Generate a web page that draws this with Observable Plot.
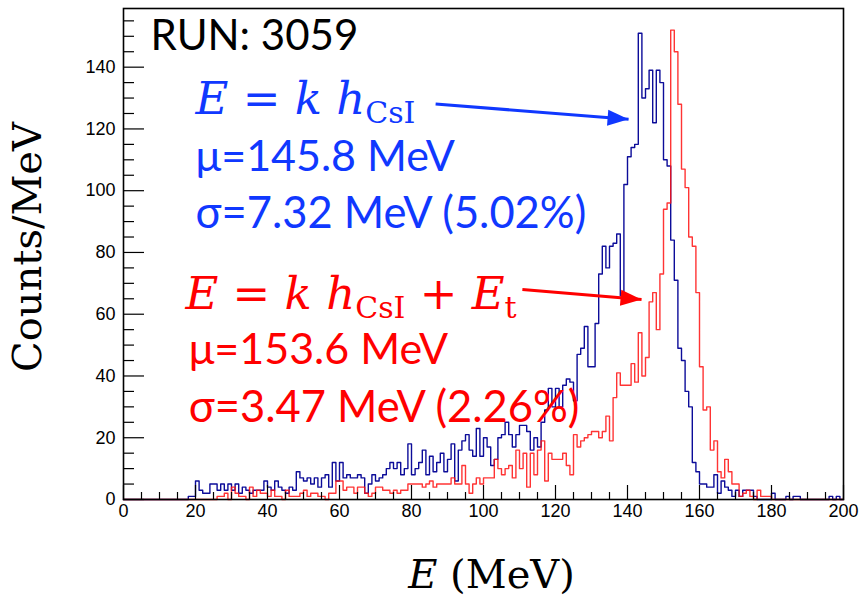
<!DOCTYPE html>
<html>
<head>
<meta charset="utf-8">
<script src="https://cdn.jsdelivr.net/npm/d3@7"></script>
<script src="https://cdn.jsdelivr.net/npm/@observablehq/plot@0.6"></script>
<style>
html, body { margin: 0; padding: 0; background: #fff; }
#chart { width: 859px; height: 599px; }
</style>
</head>
<body>
<div id="chart"></div>
<script>
// ---------- data (counts per 1 MeV bin, bins 0..199 MeV) ----------
const binLow = 0;          // first bin lower edge (MeV)
const binWidth = 1;        // MeV
const blueCounts = [
  0,0,0,0,0,0,0,0,0,0,
  0,0,0,0,0,0,0,0,1,1,
  6,3,2,2,5,5,3,5,3,5,
  3,5,2,4,3,2,3,3,3,6,
  4,3,6,4,3,2,4,3,9,7,
  6,7,5,7,4,7,8,4,12,6,
  12,7,8,7,7,8,7,2,5,8,
  6,7,8,10,12,10,12,8,10,18,
  8,10,12,16,8,14,9,12,15,9,
  13,18,6,16,19,21,16,14,23,14,
  20,17,11,13,20,21,25,21,17,21,
  24,24,22,16,20,17,25,29,36,30,
  36,30,37,39,38,32,47,49,56,43,
  43,57,73,82,75,82,83,86,66,102,
  111,114,115,151,130,133,139,122,139,135,
  110,108,84,71,49,45,35,30,12,9,
  5,5,4,4,8,2,6,4,3,1,
  3,1,3,3,3,1,0,0,0,0,
  2,0,0,0,1,0,1,1,0,0,
  0,0,0,0,0,0,1,0,1,0
];
const redCounts = [
  0,0,0,0,0,0,0,0,0,0,
  0,0,0,0,0,0,0,0,0,0,
  0,0,0,0,0,0,1,1,2,0,
  4,2,1,1,0,4,1,3,2,2,
  1,3,1,1,0,3,1,1,1,2,
  3,1,2,2,1,1,0,2,2,6,
  6,3,4,4,2,4,4,2,1,2,
  4,4,3,3,2,3,2,3,3,5,
  5,5,5,4,5,6,4,5,5,5,
  5,7,5,5,11,5,2,5,7,5,
  7,7,7,13,10,8,10,11,7,16,
  10,15,4,15,8,16,19,6,15,13,
  13,13,15,11,8,21,17,19,20,21,
  22,22,20,22,27,19,33,41,37,37,
  37,44,38,54,40,46,64,67,55,73,
  94,96,152,145,128,107,101,85,82,67,
  43,29,30,16,19,9,7,13,9,5,
  5,1,2,3,1,0,3,1,1,1,
  0,0,0,0,0,0,0,0,0,0,
  0,0,0,0,0,0,0,0,0,0
];
const xMajorTicks = [0, 20, 40, 60, 80, 100, 120, 140, 160, 180, 200];
const xMinorTicks = [5,10,15,25,30,35,45,50,55,65,70,75,85,90,95,105,110,115,125,130,135,145,150,155,165,170,175,185,190,195];
const yMajorTicks = [0, 20, 40, 60, 80, 100, 120, 140];
const yMinorTicks = [5,10,15,25,30,35,45,50,55,65,70,75,85,90,95,105,110,115,125,130,135,145,150,155];

const runLabel = "RUN: 3059";
const blueStats = ["μ=145.8 MeV", "σ=7.32 MeV (5.02%)"];
const redStats = ["μ=153.6 MeV", "σ=3.47 MeV (2.26%)"];
const blueFormula = "E = k hCsI";
const redFormula = "E = k hCsI + Et";
const xTitle = "E (MeV)";
const yTitle = "Counts/MeV";

// ---------- layout / style ----------
const W = 859, H = 599;
const mL = 123, mR = 16, mT = 8, mB = 100;
const yMax = 159;
const histBlue = "#0c0c99";
const histRed = "#ff1010";
const textBlue = "#1038ff";
const textRed = "#ff0000";

function toSteps(counts) {
  const pts = counts.map((c, i) => ({x: binLow + i * binWidth, y: c}));
  pts.push({x: binLow + counts.length * binWidth, y: counts[counts.length - 1]});
  return pts;
}
const blueSteps = toSteps(blueCounts);
const redSteps = toSteps(redCounts);

// annotation placement (data coordinates)
const notes = [
  {text: runLabel, x: 7.5, y: 150.0, fill: "black", font: "Lato", size: 42},
  {text: blueFormula, x: 20.0, y: 129.5, fill: textBlue, font: "DejaVu Serif", size: 45},
  {text: blueStats[0], x: 20.0, y: 110.8, fill: textBlue, font: "Lato", size: 43},
  {text: blueStats[1], x: 20.0, y: 92.3, fill: textBlue, font: "Lato", size: 43.5},
  {text: redFormula, x: 17.2, y: 66.5, fill: textRed, font: "DejaVu Serif", size: 45},
  {text: redStats[0], x: 18.1, y: 48.3, fill: textRed, font: "Lato", size: 43},
  {text: redStats[1], x: 18.1, y: 29.5, fill: textRed, font: "Lato", size: 43.5}
];
const arrows = [
  {x1: 86.7, y1: 128.1, x2: 140.3, y2: 123.1, color: textBlue},
  {x1: 110.8, y1: 68.0, x2: 143.9, y2: 64.8, color: textRed}
];
const pxPerX = (W - mL - mR) / 200;
const pxPerY = (H - mT - mB) / yMax;
arrows.forEach(a => {
  a.angle = Math.atan2(-(a.y2 - a.y1) * pxPerY, (a.x2 - a.x1) * pxPerX) * 180 / Math.PI;
});
const arrowHead = {
  draw(ctx) {
    ctx.moveTo(0, 0);
    ctx.lineTo(-21, -8);
    ctx.lineTo(-21, 8);
    ctx.closePath();
  }
};

const textMarks = notes.map(n => Plot.text([n], {
  x: "x", y: "y", text: "text", fill: n.fill, fontFamily: n.font, fontSize: n.size,
  textAnchor: "start", lineAnchor: "middle"
}));

const svg = Plot.plot({
  width: W, height: H,
  marginLeft: mL, marginRight: mR, marginTop: mT, marginBottom: mB,
  x: {domain: [0, 200]},
  y: {domain: [0, yMax]},
  style: {fontFamily: "Liberation Sans", fontSize: "18px", background: "white", color: "black"},
  marks: [
    Plot.line(blueSteps, {x: "x", y: "y", curve: "step-after", stroke: histBlue, strokeWidth: 1.4}),
    Plot.line(redSteps, {x: "x", y: "y", curve: "step-after", stroke: histRed, strokeWidth: 1.4, strokeOpacity: 0.85}),
    Plot.axisY({ticks: yMinorTicks, tickSize: -11, tickFormat: () => "", label: null, strokeWidth: 1.2}),
    Plot.axisY({ticks: yMajorTicks, tickSize: -21, tickFormat: () => "", label: null, strokeWidth: 1.2}),
    Plot.axisY({ticks: yMajorTicks, tickSize: 0, tickPadding: 8, label: null, fontSize: 18}),
    Plot.axisX({ticks: xMinorTicks, tickSize: -7, tickFormat: () => "", label: null, strokeWidth: 1.2}),
    Plot.axisX({ticks: xMajorTicks, tickSize: -14, tickFormat: () => "", label: null, strokeWidth: 1.2}),
    Plot.axisX({ticks: xMajorTicks, tickSize: 0, tickPadding: 5, label: null, fontSize: 18}),
    Plot.frame({stroke: "black", strokeWidth: 1.6}),
    ...textMarks,
    Plot.link(arrows, {x1: "x1", y1: "y1", x2: "x2", y2: "y2", stroke: "color", strokeWidth: 3}),
    Plot.dot(arrows, {x: "x2", y: "y2", symbol: arrowHead, rotate: "angle", fill: "color", stroke: null, r: 8}),
    Plot.text([yTitle], {frameAnchor: "left", dx: -95, dy: -7, rotate: -90, textAnchor: "middle", fontFamily: "DejaVu Serif", fontSize: 40, fill: "black", lineAnchor: "middle"}),
    Plot.text([xTitle], {frameAnchor: "bottom", dx: 8, dy: 76, textAnchor: "middle", fontFamily: "DejaVu Serif", fontSize: 40, fill: "black", lineAnchor: "middle"})
  ]
});

// rich text (italic math symbols and subscripts)
const sub = (s) => `<tspan font-size="30" dy="9">${s}</tspan>`;
const rich = {
  [blueFormula]: `<tspan font-style="italic">E</tspan><tspan> = </tspan><tspan font-style="italic">k</tspan><tspan> </tspan><tspan font-style="italic">h</tspan>${sub("CsI")}`,
  [redFormula]: `<tspan font-style="italic">E</tspan><tspan> = </tspan><tspan font-style="italic">k</tspan><tspan> </tspan><tspan font-style="italic">h</tspan>${sub("CsI")}<tspan dy="-9"> + </tspan><tspan font-style="italic">E</tspan>${sub("t")}`,
  [xTitle]: `<tspan font-style="italic">E</tspan> (MeV)`
};
d3.select(svg).selectAll("text").each(function() {
  const t = this.textContent;
  if (rich[t] !== undefined) this.innerHTML = rich[t];
});

document.getElementById("chart").appendChild(svg);
</script>
</body>
</html>
